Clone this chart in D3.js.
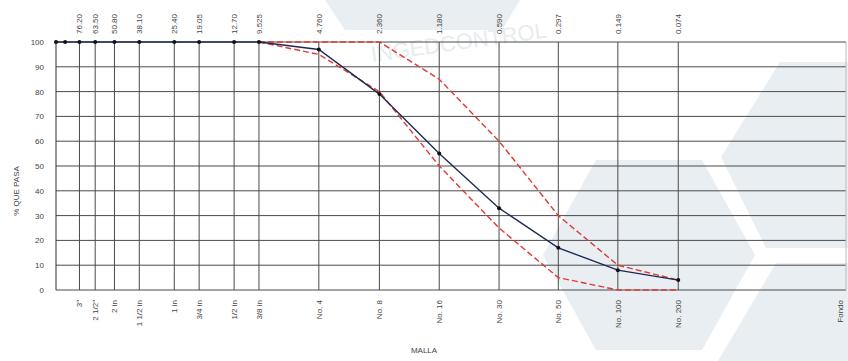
<!DOCTYPE html>
<html lang="en">
<head>
    <meta charset="UTF-8">
    <title>Curva granulometrica</title>
    <script src="https://d3js.org/d3.v7.min.js"></script>
</head>
<style>
    html, body {
        margin: 0;
        padding: 0;
        background: #fff;
    }
    text {
        font-family: "Liberation Sans", Arial, sans-serif;
        fill: #444;
    }
</style>
<body>
<svg id="chart" width="848" height="361"></svg>

<script>
    // sieve openings (mm) and labels
    var sizes = [100, 90, 76.2, 63.5, 50.8, 38.1, 25.4, 19.05, 12.7, 9.525, 4.76, 2.36, 1.18, 0.59, 0.297, 0.149, 0.074]
    var topLabels = ['', '', '76.20', '63.50', '50.80', '38.10', '25.40', '19.05', '12.70', '9.525', '4.760', '2.360', '1.180', '0.590', '0.297', '0.149', '0.074']
    var meshLabels = ['', '', '3"', '2 1/2"', '2 in', '1 1/2 in', '1 in', '3/4 in', '1/2 in', '3/8 in', 'No. 4', 'No. 8', 'No. 16', 'No. 30', 'No. 50', 'No. 100', 'No. 200']
    // % que pasa
    var passing = [100, 100, 100, 100, 100, 100, 100, 100, 100, 100, 97, 79, 55, 33, 17, 8, 4]
    // spec limits (from 3/8 in down)
    var limitSizes = [9.525, 4.76, 2.36, 1.18, 0.59, 0.297, 0.149, 0.074]
    var upperLimit = [100, 100, 100, 85, 60, 30, 10, 4]
    var lowerLimit = [100, 95, 80, 50, 25, 5, 0, 0]
    var yTicks = [0, 10, 20, 30, 40, 50, 60, 70, 80, 90, 100]

    var svg = d3.select('#chart')
    var x = d3.scaleLog().domain([100, 0.0106]).range([56, 846])
    var y = d3.scaleLinear().domain([0, 100]).range([290, 42])

    // faint logo watermark in the back
    var wm = svg.append('g').attr('fill', '#e8eef1')
    var hexes = [
        [[543, 255], [596, 160], [702, 160], [755, 255], [702, 350], [596, 350]],
        [[721, 157], [780, 62], [848, 62], [848, 248], [766, 248]],
        [[776, 263], [848, 263], [848, 361], [718, 361]],
        [[325, 0], [520, 0], [502, 30], [345, 30]]
    ]
    wm.selectAll('polygon').data(hexes).enter().append('polygon')
        .attr('points', function (d) { return d.join(' ') })
    svg.append('text')
        .attr('transform', 'translate(372,62) rotate(-8)')
        .style('font-size', '22px')
        .style('fill', '#e7ecef')
        .text('INGEDCONTROL')

    // horizontal grid
    svg.append('g').selectAll('line').data(yTicks).enter().append('line')
        .attr('x1', x(100)).attr('x2', 846)
        .attr('y1', function (d) { return y(d) }).attr('y2', function (d) { return y(d) })
        .attr('stroke', '#4a4a4a').attr('stroke-width', 1)

    // vertical grid at labelled sieves
    var gridSizes = sizes.filter(function (d, i) { return topLabels[i] !== '' })
    svg.append('g').selectAll('line').data(gridSizes).enter().append('line')
        .attr('x1', function (d) { return x(d) }).attr('x2', function (d) { return x(d) })
        .attr('y1', y(100)).attr('y2', y(0))
        .attr('stroke', '#4a4a4a').attr('stroke-width', 1)

    // left axis + right border
    svg.append('line').attr('x1', x(100)).attr('x2', x(100)).attr('y1', y(100)).attr('y2', y(0))
        .attr('stroke', '#333')
    svg.append('line').attr('x1', 846).attr('x2', 846).attr('y1', y(100)).attr('y2', y(0))
        .attr('stroke', '#bbb')

    // y tick labels
    svg.append('g').selectAll('text').data(yTicks).enter().append('text')
        .attr('x', 44).attr('y', function (d) { return y(d) + 3 })
        .attr('text-anchor', 'end')
        .style('font-size', '8px')
        .text(function (d) { return d })

    svg.append('text')
        .attr('transform', 'translate(19,191) rotate(-90)')
        .attr('text-anchor', 'middle')
        .style('font-size', '8px')
        .text('% QUE PASA')

    // top labels (opening in mm)
    svg.append('g').selectAll('text').data(sizes).enter().append('text')
        .attr('transform', function (d) { return 'translate(' + (x(d) + 3) + ',34) rotate(-90)' })
        .attr('text-anchor', 'start')
        .style('font-size', '8px')
        .text(function (d, i) { return topLabels[i] })

    // bottom labels (mesh)
    svg.append('g').selectAll('text').data(sizes).enter().append('text')
        .attr('transform', function (d) { return 'translate(' + (x(d) + 3) + ',300) rotate(-90)' })
        .attr('text-anchor', 'end')
        .style('font-size', '8px')
        .text(function (d, i) { return meshLabels[i] })
    svg.append('text')
        .attr('transform', 'translate(' + (x(0.0106) - 3) + ',300) rotate(-90)')
        .attr('text-anchor', 'end')
        .style('font-size', '8px')
        .text('Fondo')

    svg.append('text')
        .attr('x', 424).attr('y', 353)
        .attr('text-anchor', 'middle')
        .style('font-size', '8px')
        .text('MALLA')

    // spec limits
    var limLine = d3.line()
        .x(function (d) { return x(d[0]) })
        .y(function (d) { return y(d[1]) })
    ;[upperLimit, lowerLimit].forEach(function (lim) {
        svg.append('path')
            .datum(d3.zip(limitSizes, lim))
            .attr('d', limLine)
            .attr('fill', 'none')
            .attr('stroke', '#e03a35')
            .attr('stroke-width', 1.4)
            .attr('stroke-dasharray', '6,3')
    })

    // grading curve
    var curve = d3.zip(sizes, passing)
    svg.append('path')
        .datum(curve)
        .attr('d', limLine)
        .attr('fill', 'none')
        .attr('stroke', '#1d2a55')
        .attr('stroke-width', 1.4)
    svg.append('g').selectAll('circle').data(curve).enter().append('circle')
        .attr('cx', function (d) { return x(d[0]) })
        .attr('cy', function (d) { return y(d[1]) })
        .attr('r', 2)
        .attr('fill', '#111')
</script>
</body>
</html>
